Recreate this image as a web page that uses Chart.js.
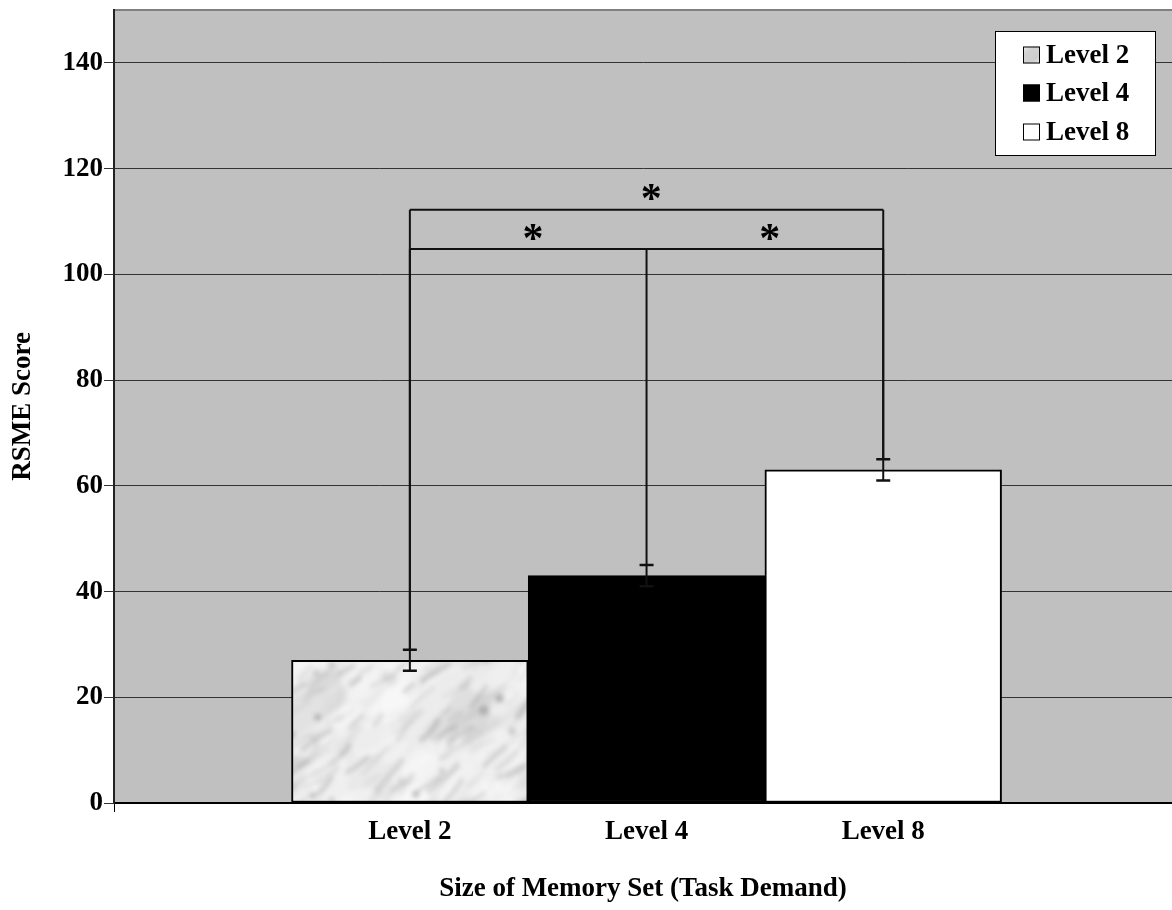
<!DOCTYPE html>
<html>
<head>
<meta charset="utf-8">
<title>RSME Score by Size of Memory Set</title>
<script src="https://cdn.jsdelivr.net/npm/chart.js@4/dist/chart.umd.min.js"></script>
<style>
  html, body { margin: 0; padding: 0; background: #ffffff; }
  #wrap { width: 1172px; height: 910px; }
</style>
</head>
<body>
<div id="wrap"><canvas id="c" width="1172" height="910"></canvas></div>
<script>
// ---- data ----
const categories = ['Level 2', 'Level 4', 'Level 8'];
const seriesNames = ['Level 2', 'Level 4', 'Level 8'];
const positions = [1, 2, 3];
const meanScores = [27, 43, 63];
const errUpper = [2, 2, 2];
const errLower = [2, 2, 2];
const yTicks = [0, 20, 40, 60, 80, 100, 120, 140];

// significance brackets: score level of each horizontal bar and the bars it joins
const bracketLevels = [104.8, 112.2];
const bracketLegs = [[0, 1, 2], [0, 2]];
// significance stars
const starX = [1.52, 2.52, 2.02];
const starY = [108, 108, 115.6];

const X_MIN = -0.25;
const X_MAX = 4.22;
const SERIF = "'Liberation Serif', 'Times New Roman', Times, serif";

Chart.defaults.font.family = SERIF;
Chart.defaults.color = '#000';

// marble-like fill for the first series (seeded, so it is the same every time)
function marbleFill(w, h) {
  const raw = document.createElement('canvas');
  raw.width = w; raw.height = h;
  const g = raw.getContext('2d');
  g.fillStyle = '#ececec';
  g.fillRect(0, 0, w, h);
  let seed = 97531;
  const rnd = () => (seed = (seed * 16807) % 2147483647) / 2147483647;
  // soft grey clouds
  for (let i = 0; i < 700; i++) {
    const x = rnd() * w, y = rnd() * h, r = 5 + rnd() * 16;
    const v = 200 + Math.floor(rnd() * 50);
    g.fillStyle = `rgba(${v},${v},${v},0.45)`;
    g.beginPath(); g.ellipse(x, y, r * 2, r, -0.6, 0, Math.PI * 2); g.fill();
  }
  // pale patches
  for (let i = 0; i < 700; i++) {
    const x = rnd() * w, y = rnd() * h, r = 4 + rnd() * 12;
    g.fillStyle = 'rgba(248,248,248,0.55)';
    g.beginPath(); g.ellipse(x, y, r * 1.8, r, -0.6, 0, Math.PI * 2); g.fill();
  }
  // grey veins running up to the right
  for (let i = 0; i < 1300; i++) {
    const x = rnd() * w, y = rnd() * h;
    const len = 8 + rnd() * 34;
    const ang = -0.7 + (rnd() - 0.5) * 0.5;
    const v = 130 + Math.floor(rnd() * 80);
    g.strokeStyle = `rgba(${v},${v},${v},${0.15 + rnd() * 0.35})`;
    g.lineWidth = 1.5 + rnd() * 4;
    g.lineCap = 'round';
    g.beginPath();
    g.moveTo(x, y);
    g.quadraticCurveTo(x + Math.cos(ang) * len * 0.5 + (rnd() - 0.5) * 6,
                       y + Math.sin(ang) * len * 0.5 + (rnd() - 0.5) * 6,
                       x + Math.cos(ang) * len, y + Math.sin(ang) * len);
    g.stroke();
  }
  // a few dark specks
  for (let i = 0; i < 160; i++) {
    const x = rnd() * w, y = rnd() * h, r = 1.5 + rnd() * 3.5;
    const v = 115 + Math.floor(rnd() * 50);
    g.fillStyle = `rgba(${v},${v},${v},0.55)`;
    g.beginPath(); g.arc(x, y, r, 0, Math.PI * 2); g.fill();
  }
  const soft = document.createElement('canvas');
  soft.width = w; soft.height = h;
  const s = soft.getContext('2d');
  s.fillStyle = '#ececec';
  s.fillRect(0, 0, w, h);
  s.filter = 'blur(2.4px)';
  s.drawImage(raw, 0, 0);
  return s.createPattern(soft, 'repeat');
}

const ctx = document.getElementById('c').getContext('2d');
const marble = marbleFill(600, 910);
const fills = [marble, '#000000', '#ffffff'];

// plot background and top frame line
const plotBackground = {
  id: 'plotBackground',
  beforeDraw(chart) {
    const { ctx, chartArea: a } = chart;
    ctx.save();
    ctx.fillStyle = '#c0c0c0';
    ctx.fillRect(a.left, a.top, a.right - a.left, a.bottom - a.top);
    ctx.strokeStyle = '#808080';
    ctx.lineWidth = 2;
    ctx.beginPath();
    ctx.moveTo(a.left, a.top);
    ctx.lineTo(a.right, a.top);
    ctx.stroke();
    ctx.restore();
  }
};

// error bars, significance brackets and stars
const annotations = {
  id: 'annotations',
  afterDatasetsDraw(chart) {
    const { ctx, scales: { x, y } } = chart;
    ctx.save();
    ctx.strokeStyle = '#111';
    ctx.lineWidth = 2;
    ctx.lineCap = 'butt';
    // error bars
    positions.forEach((p, i) => {
      const px = x.getPixelForValue(p);
      const top = y.getPixelForValue(meanScores[i] + errUpper[i]);
      const bot = y.getPixelForValue(meanScores[i] - errLower[i]);
      ctx.lineWidth = 2;
      ctx.beginPath();
      ctx.moveTo(px, top); ctx.lineTo(px, bot);
      ctx.stroke();
      ctx.lineWidth = 2.5;
      ctx.beginPath();
      ctx.moveTo(px - 7, top); ctx.lineTo(px + 7, top);
      ctx.moveTo(px - 7, bot); ctx.lineTo(px + 7, bot);
      ctx.stroke();
    });
    // brackets
    ctx.lineWidth = 2;
    bracketLevels.forEach((lvl, b) => {
      const legs = bracketLegs[b];
      const py = y.getPixelForValue(lvl);
      ctx.beginPath();
      ctx.moveTo(x.getPixelForValue(positions[legs[0]]), py);
      ctx.lineTo(x.getPixelForValue(positions[legs[legs.length - 1]]), py);
      legs.forEach(i => {
        const px = x.getPixelForValue(positions[i]);
        ctx.moveTo(px, py);
        ctx.lineTo(px, y.getPixelForValue(meanScores[i] + errUpper[i]));
      });
      ctx.stroke();
    });
    // stars
    ctx.fillStyle = '#000';
    ctx.font = 'bold 42px ' + SERIF;
    ctx.textAlign = 'center';
    ctx.textBaseline = 'alphabetic';
    const m = ctx.measureText('*');
    const shift = (m.actualBoundingBoxAscent - m.actualBoundingBoxDescent) / 2;
    starX.forEach((sx, i) => {
      ctx.fillText('*', x.getPixelForValue(sx), y.getPixelForValue(starY[i]) + shift);
    });
    ctx.restore();
  }
};

// boxed legend in the upper right of the plot
const boxLegend = {
  id: 'boxLegend',
  afterDraw(chart, args, opts) {
    const { ctx } = chart;
    const { left, top, width, height, swatchX, swatch, textX, rows } = opts;
    ctx.save();
    ctx.fillStyle = '#ffffff';
    ctx.fillRect(left, top, width, height);
    ctx.strokeStyle = '#000';
    ctx.lineWidth = 1;
    ctx.strokeRect(left + 0.5, top + 0.5, width, height);
    ctx.font = 'bold 27px ' + SERIF;
    ctx.textAlign = 'left';
    ctx.textBaseline = 'middle';
    chart.data.datasets.forEach((ds, i) => {
      const cy = rows[i];
      ctx.fillStyle = ds.backgroundColor;
      ctx.fillRect(swatchX, cy - swatch / 2, swatch, swatch);
      ctx.strokeStyle = '#000';
      ctx.lineWidth = 1;
      ctx.strokeRect(swatchX + 0.5, cy - swatch / 2 + 0.5, swatch - 1, swatch - 1);
      ctx.fillStyle = '#000';
      ctx.fillText(ds.label, textX, cy + 1);
    });
    ctx.restore();
  }
};

new Chart(ctx, {
  type: 'bar',
  data: {
    datasets: seriesNames.map((name, i) => ({
      label: name,
      data: [{ x: positions[i], y: meanScores[i] }],
      backgroundColor: fills[i],
      borderColor: '#000',
      borderWidth: 2,
      borderSkipped: false,
      grouped: false,
      barPercentage: 1,
      categoryPercentage: 1
    }))
  },
  options: {
    responsive: false,
    animation: false,
    devicePixelRatio: 1,
    layout: { padding: { top: 10, right: 0, bottom: 0, left: 0 } },
    plugins: {
      legend: { display: false },
      tooltip: { enabled: false },
      boxLegend: {
        left: 995, top: 31, width: 160, height: 124,
        swatchX: 1023, swatch: 17, textX: 1046,
        rows: [55, 93, 132]
      }
    },
    scales: {
      x: {
        type: 'linear',
        min: X_MIN,
        max: X_MAX,
        bounds: 'data',
        offset: false,
        afterBuildTicks: s => { s.ticks = [X_MIN, ...positions].map(v => ({ value: v })); },
        afterFit: s => { s.height = 107; s.paddingLeft = 0; s.paddingRight = 0; },
        ticks: {
          autoSkip: false,
          maxRotation: 0,
          padding: 4,
          color: '#000',
          font: { size: 27, weight: 'bold' },
          callback: v => { const i = positions.indexOf(v); return i < 0 ? '' : categories[i]; }
        },
        grid: {
          offset: false,
          drawOnChartArea: false,
          tickLength: 9,
          lineWidth: 1,
          color: c => (c.tick && c.tick.value === X_MIN) ? '#000' : 'rgba(0,0,0,0)'
        },
        border: { display: true, color: '#000', width: 2 },
        title: {
          display: true,
          text: 'Size of Memory Set (Task Demand)',
          color: '#000',
          font: { size: 27, weight: 'bold' },
          padding: { top: 0, bottom: 5 }
        }
      },
      y: {
        min: 0,
        max: 150,
        afterBuildTicks: s => { s.ticks = yTicks.map(v => ({ value: v })); },
        afterFit: s => { s.width = 114; s.paddingTop = 0; s.paddingBottom = 0; },
        ticks: { padding: 1, color: '#000', font: { size: 27, weight: 'bold' } },
        grid: { color: '#333', lineWidth: 1, tickLength: 10 },
        border: { display: true, color: '#222', width: 2 },
        title: {
          display: true,
          text: 'RSME Score',
          color: '#000',
          font: { size: 27, weight: 'bold' },
          padding: { top: 7, bottom: 0 }
        }
      }
    }
  },
  plugins: [plotBackground, annotations, boxLegend]
});
</script>
</body>
</html>
